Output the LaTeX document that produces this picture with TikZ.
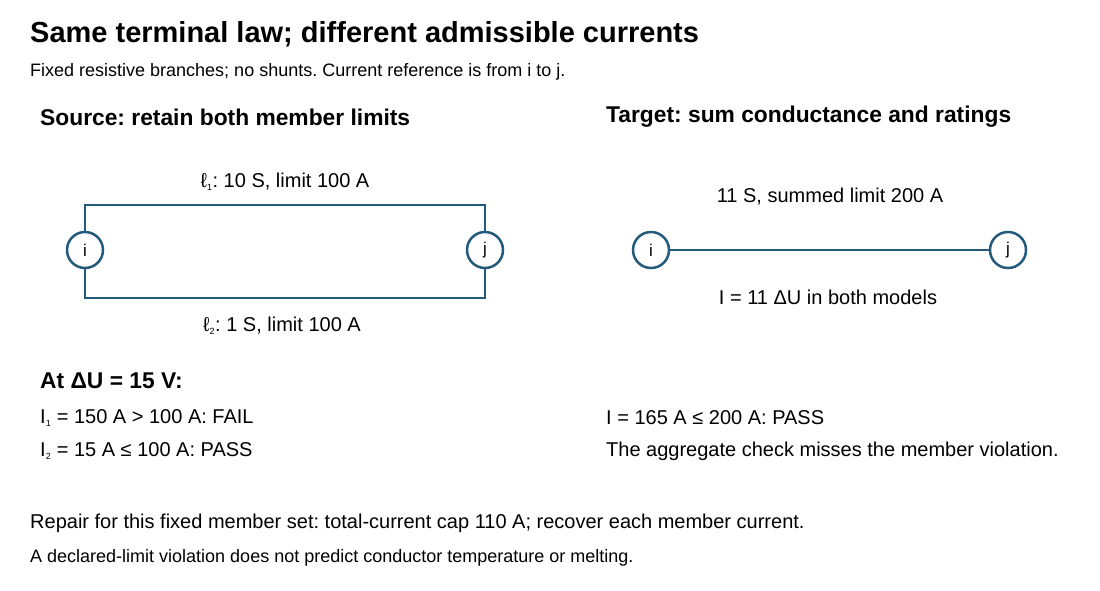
\documentclass[tikz,border=0pt]{standalone}
\usepackage{fontspec}
\setmainfont{Liberation Sans}
\begin{document}
\frenchspacing
\begin{tikzpicture}[x=1pt,y=-1pt,
  wire/.style={draw=wc,line width=2.5pt},
  term/.style={circle,draw=wc,line width=2.5pt,fill=white,minimum size=36pt,inner sep=0pt,font=\fontsize{17}{20}\selectfont},
  txt/.style={inner sep=0pt,anchor=west,font=\fontsize{20}{24}\selectfont},
  lbl/.style={inner sep=0pt,font=\fontsize{20}{24}\selectfont},
  hdr/.style={inner sep=0pt,anchor=west,font=\fontsize{22.8}{27}\selectfont\bfseries},
  small/.style={inner sep=0pt,anchor=west,font=\fontsize{18}{21}\selectfont}]
\definecolor{wc}{HTML}{245A7C}
\useasboundingbox[fill=white] (0,0) rectangle (1100,590);
\newcommand{\sbx}[1]{\textsubscript{\fontsize{9}{9}\selectfont #1}}
\node[inner sep=0pt,anchor=west,font=\fontsize{29}{33}\selectfont\bfseries] (title) at (30,34) {Same terminal law; different admissible currents};
\node[small] (sub) at (30,72) {Fixed resistive branches; no shunts. Current reference is from i to j.};
\node[hdr] (hs) at (40,117) {Source: retain both member limits};
\node[hdr] (ht) at (606,117) {Target: sum conductance and ratings};
% left circuit
\node[term] (i1) at (85,250) {i};
\node[term] (j1) at (485,250) {j};
\draw[wire] (i1.north) |- (485,205) -- (j1.north);
\draw[wire] (i1.south) |- (485,298) -- (j1.south);
\node[lbl] (l1) at (285,182) {ℓ\sbx{1}: 10 S, limit 100 A};
\node[lbl] (l2) at (282,326) {ℓ\sbx{2}: 1 S, limit 100 A};
% right circuit
\node[term] (i2) at (651,250) {i};
\node[term] (j2) at (1008,250) {j};
\draw[wire] (i2) -- (j2);
\node[lbl] (r1) at (830,197) {11 S, summed limit 200 A};
\node[lbl] (r2) at (828,297) {I = 11 ΔU in both models};
\node[hdr] (at) at (40,381) {At ΔU = 15 V:};
\node[txt] (a1) at (40,418) {I\sbx{1} = 150 A > 100 A: FAIL};
\node[txt] (a2) at (40,451) {I\sbx{2} = 15 A ≤ 100 A: PASS};
\node[txt] (b1) at (606,418) {I = 165 A ≤ 200 A: PASS};
\node[txt] (b2) at (606,451) {The aggregate check misses the member violation.};
\node[txt] (rep) at (30,523) {Repair for this fixed member set: total-current cap 110 A; recover each member current.};
\node[small] (ft) at (30,558) {A declared-limit violation does not predict conductor temperature or melting.};
\end{tikzpicture}
\end{document}
